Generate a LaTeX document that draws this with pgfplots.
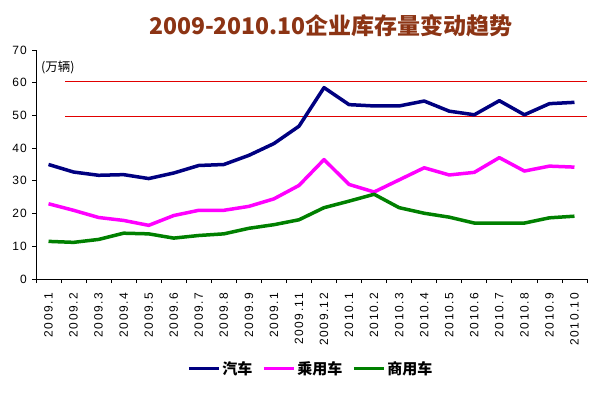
\documentclass[border=0pt]{standalone}
\usepackage{fontspec}
\setmainfont{Liberation Sans}
\newfontfamily\cjk{Noto Sans CJK SC}
\usepackage{pgfplots}
\pgfplotsset{compat=1.18}
\definecolor{cNavy}{RGB}{0,0,128}
\definecolor{cMag}{RGB}{255,0,255}
\definecolor{cGreen}{RGB}{0,128,0}
\definecolor{cRed}{RGB}{225,0,0}
\definecolor{cTitle}{RGB}{140,52,20}
\begin{document}
\begin{tikzpicture}
\path[use as bounding box] (0,0) rectangle (607pt,396pt);
\node[text=cTitle, font=\cjk\bfseries\fontsize{23}{24}\selectfont, inner sep=0pt] at (331pt,370pt) {2009-2010.10企业库存量变动趋势};
\begin{axis}[
  at={(36pt,117pt)}, anchor=south west, scale only axis,
  width=551pt, height=229pt,
  xmin=-0.5, xmax=21.5, ymin=0, ymax=70,
  clip=false,
  axis x line=bottom, axis y line=left,
  axis line style={-, line width=0.8pt},
  every tick/.style={black, line width=0.8pt},
  tick align=outside,
  xtick={0,...,21},
  xticklabels={2009.1,2009.2,2009.3,2009.4,2009.5,2009.6,2009.7,2009.8,2009.9,2009.1,2009.11,2009.12,2010.1,2010.2,2010.3,2010.4,2010.5,2010.6,2010.7,2010.8,2010.9,2010.10},
  major x tick style={draw=none},
  minor xtick={-0.5,0.5,...,21.5},
  minor tick length=4pt,
  major tick length=4pt,
  ytick={0,10,...,70},
  /pgf/number format/assume math mode=true,
  xticklabel style={rotate=90, anchor=east, inner sep=0pt, font=\fontsize{12}{12}\selectfont\addfontfeature{LetterSpace=12}},
  xticklabel shift=10pt,
  yticklabel style={inner sep=0pt, font=\fontsize{12}{12}\selectfont\addfontfeature{LetterSpace=8}},
  yticklabel shift=5pt,
  legend columns=3,
  legend style={at={(0.499,-0.393)}, anchor=center, draw=none, fill=none,
    font=\cjk\bfseries\fontsize{15}{16}\selectfont,
    /tikz/every even column/.append style={column sep=8pt}},
  legend image code/.code={\draw[#1, line width=3pt] (0pt,0pt) -- (30pt,0pt);},
]
\addplot[cRed, line width=0.7pt, forget plot] coordinates {(0.66,60.4) (21.5,60.4)};
\addplot[cRed, line width=0.7pt, forget plot] coordinates {(0.66,49.8) (21.5,49.8)};
\addplot[cNavy, line width=3.5pt, line join=round] coordinates {
(0,35.0) (1,32.7) (2,31.7) (3,31.9) (4,30.7) (5,32.4) (6,34.7) (7,35.0) (8,37.8) (9,41.4) (10,46.7)
(11,58.5) (12,53.3) (13,52.9) (14,52.9) (15,54.4) (16,51.3) (17,50.2) (18,54.5) (19,50.2) (20,53.6) (21,54.0)};
\addlegendentry{汽车}
\addplot[cMag, line width=3.5pt, line join=round] coordinates {
(0,23.0) (1,21.0) (2,18.8) (3,17.9) (4,16.4) (5,19.4) (6,21.0) (7,21.0) (8,22.2) (9,24.5) (10,28.6)
(11,36.5) (12,28.9) (13,26.6) (14,30.3) (15,34.0) (16,31.8) (17,32.6) (18,37.1) (19,33.0) (20,34.5) (21,34.2)};
\addlegendentry{乘用车}
\addplot[cGreen, line width=3.5pt, line join=round] coordinates {
(0,11.5) (1,11.2) (2,12.1) (3,14.0) (4,13.8) (5,12.5) (6,13.3) (7,13.8) (8,15.5) (9,16.6) (10,18.1)
(11,21.8) (12,23.8) (13,25.9) (14,21.8) (15,20.1) (16,18.9) (17,17.1) (18,17.1) (19,17.1) (20,18.7) (21,19.2)};
\addlegendentry{商用车}
\node[anchor=west, inner sep=0pt, font=\cjk\fontsize{12.5}{13}\selectfont] at (axis cs:-0.3,64.8) {(万辆)};
\end{axis}
\end{tikzpicture}
\end{document}
